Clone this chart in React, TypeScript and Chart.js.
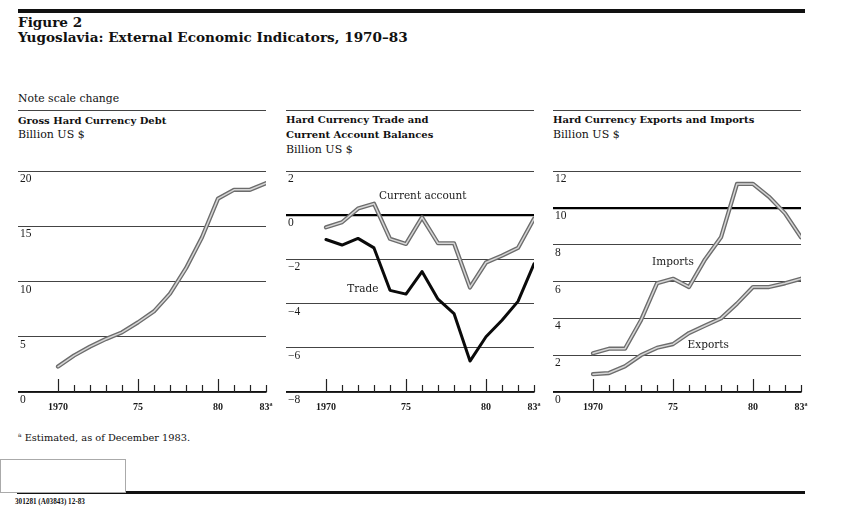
import React, { useEffect, useRef } from 'react';
import { Chart, registerables } from 'chart.js';

Chart.register(...registerables);

// ---- data ----
const years = [1970, 1971, 1972, 1973, 1974, 1975, 1976, 1977, 1978, 1979, 1980, 1981, 1982, 1983];
const grossDebt = [2.3, 3.3, 4.1, 4.8, 5.4, 6.3, 7.3, 8.9, 11.2, 14.0, 17.5, 18.3, 18.3, 18.9];
const currentAccount = [-0.55, -0.32, 0.3, 0.52, -1.07, -1.3, -0.1, -1.27, -1.27, -3.27, -2.14, -1.83, -1.48, -0.16];
const tradeBalance = [-1.1, -1.35, -1.05, -1.48, -3.4, -3.57, -2.55, -3.8, -4.45, -6.6, -5.5, -4.75, -3.9, -2.2];
const hardImports = [2.1, 2.35, 2.35, 3.9, 5.9, 6.15, 5.7, 7.2, 8.4, 11.3, 11.3, 10.6, 9.7, 8.4];
const hardExports = [0.97, 1.03, 1.4, 2.0, 2.4, 2.6, 3.2, 3.6, 4.0, 4.8, 5.7, 5.7, 5.9, 6.15];

const xTickYears = [1970, 1975, 1980, 1983];
const xTickLabels = ['1970', '75', '80', '83ª'];
const debtTicks = [0, 5, 10, 15, 20];
const balanceTicks = [-8, -6, -4, -2, 0, 2];
const tradeTicks = [0, 2, 4, 6, 8, 10, 12];

// ---- layout constants ----
const CHART_TOP = 160;
const TOP_PAD = 11;
const PLOT_H = 221;
const X_AXIS_H = 25;
const PLOT_W = 248;
const RIGHT_PAD = 20;

const SMALL = "'DejaVu Serif', serif";
const TIMES = "'Liberation Serif', serif";

const toPoints = (vals: number[]) => years.map((y, i) => ({ x: y, y: vals[i] }));

function doubleLine(vals: number[]) {
  return [
    { data: toPoints(vals), borderColor: '#d6d6d6', borderWidth: 1.5, order: 0 },
    { data: toPoints(vals), borderColor: '#6c6c6c', borderWidth: 4.2, order: 1 },
  ];
}

type SeriesLabel = { text: string; x: number; y: number };

type PanelProps = {
  left: number;
  yMin: number;
  yMax: number;
  yTicks: number[];
  datasets: any[];
  labels: SeriesLabel[];
  heavy?: number;
};

function fmt(v: number) {
  return v < 0 ? '\u2212' + Math.abs(v) : String(v);
}

function Panel({ left, yMin, yMax, yTicks, datasets, labels, heavy }: PanelProps) {
  const ref = useRef<HTMLCanvasElement | null>(null);
  useEffect(() => {
    if (!ref.current) return;
    const yearTicks = {
      id: 'yearTicks',
      afterDraw(chart: any) {
        const xs = chart.scales.x;
        const bottom = chart.chartArea.bottom;
        const ctx = chart.ctx;
        ctx.save();
        ctx.strokeStyle = '#222';
        ctx.lineWidth = 1.2;
        years.forEach((yr) => {
          const px = Math.round(xs.getPixelForValue(yr)) + 0.5;
          const h = yr % 5 === 0 ? 13 : 7;
          ctx.beginPath();
          ctx.moveTo(px, bottom);
          ctx.lineTo(px, bottom - h);
          ctx.stroke();
        });
        ctx.restore();
      },
    };
    const seriesLabels = {
      id: 'seriesLabels',
      afterDatasetsDraw(chart: any) {
        const xs = chart.scales.x;
        const ys = chart.scales.y;
        const ctx = chart.ctx;
        ctx.save();
        ctx.font = `10.5px ${SMALL}`;
        ctx.fillStyle = '#1a1a1a';
        ctx.textAlign = 'center';
        ctx.textBaseline = 'middle';
        labels.forEach((l) => {
          ctx.fillText(l.text, xs.getPixelForValue(l.x), ys.getPixelForValue(l.y));
        });
        ctx.restore();
      },
    };
    const chart = new Chart(ref.current, {
      type: 'line',
      data: { datasets },
      options: {
        animation: false,
        responsive: false,
        layout: { padding: { top: TOP_PAD, right: RIGHT_PAD, left: 0, bottom: 0 } },
        plugins: { legend: { display: false }, tooltip: { enabled: false } },
        elements: { point: { radius: 0 }, line: { tension: 0, borderJoinStyle: 'round', borderCapStyle: 'round' } },
        scales: {
          x: {
            type: 'linear',
            min: 1967.5,
            max: 1983,
            grid: { display: false, drawTicks: false },
            border: { display: true, color: '#111', width: 1.5 },
            afterBuildTicks: (s: any) => {
              s.ticks = xTickYears.map((v) => ({ value: v }));
            },
            afterFit: (s: any) => {
              s.height = X_AXIS_H;
            },
            ticks: {
              padding: 9,
              color: '#1a1a1a',
              maxRotation: 0,
              autoSkip: false,
              font: { family: TIMES, size: 10, weight: 'bold' },
              callback: (_v: any, i: number) => xTickLabels[i],
            },
          },
          y: {
            type: 'linear',
            min: yMin,
            max: yMax,
            afterBuildTicks: (s: any) => {
              s.ticks = yTicks.map((v) => ({ value: v }));
            },
            afterFit: (s: any) => {
              s.width = 0;
            },
            border: { display: false },
            grid: {
              drawTicks: false,
              color: (c: any) => (c.tick && c.tick.value === heavy ? '#000' : '#444'),
              lineWidth: (c: any) => (c.tick && c.tick.value === heavy ? 2.2 : 1),
            },
            ticks: {
              mirror: true,
              padding: 2,
              labelOffset: 8,
              color: '#1a1a1a',
              font: { family: TIMES, size: 11.5 },
              callback: (v: any) => fmt(Number(v)),
            },
          },
        },
      },
      plugins: [yearTicks, seriesLabels],
    } as any);
    return () => chart.destroy();
  }, []);
  return (
    <canvas
      ref={ref}
      width={PLOT_W + RIGHT_PAD}
      height={TOP_PAD + PLOT_H + X_AXIS_H}
      style={{ position: 'absolute', left, top: CHART_TOP, width: PLOT_W + RIGHT_PAD, height: TOP_PAD + PLOT_H + X_AXIS_H }}
    />
  );
}

function Txt({ x, y, size, bold, family, children }: any) {
  return (
    <div
      style={{
        position: 'absolute',
        left: x,
        top: y - size / 2,
        fontSize: size,
        lineHeight: size + 'px',
        fontWeight: bold ? 'bold' : 'normal',
        fontFamily: family || SMALL,
        whiteSpace: 'nowrap',
        color: '#111',
      }}
    >
      {children}
    </div>
  );
}

function Rule({ x, y, w, h, color }: any) {
  return <div style={{ position: 'absolute', left: x, top: y, width: w, height: h, background: color || '#444' }} />;
}

export default function App() {
  return (
    <div style={{ position: 'absolute', left: 0, top: 0, width: 842, height: 507, background: '#fff', overflow: 'hidden' }}>
      <Rule x={18} y={9} w={787} h={4} color="#111" />
      <Txt x={18} y={23} size={13.6} bold>Figure 2</Txt>
      <Txt x={18} y={38} size={13.6} bold>Yugoslavia: External Economic Indicators, 1970–83</Txt>

      <Txt x={18} y={99.5} size={10.8}>Note scale change</Txt>
      <Rule x={18} y={110} w={248} h={1} />
      <Rule x={286} y={110} w={248} h={1} />
      <Rule x={553} y={110} w={248} h={1} />

      <Txt x={18} y={120.5} size={10} bold>Gross Hard Currency Debt</Txt>
      <Txt x={18} y={134.5} size={11}>Billion US $</Txt>

      <Txt x={286} y={119.5} size={10} bold>Hard Currency Trade and</Txt>
      <Txt x={286} y={134.5} size={10} bold>Current Account Balances</Txt>
      <Txt x={286} y={149.5} size={11}>Billion US $</Txt>

      <Txt x={553} y={119.5} size={10} bold>Hard Currency Exports and Imports</Txt>
      <Txt x={553} y={134.5} size={11}>Billion US $</Txt>

      <Panel left={18} yMin={0} yMax={20} yTicks={debtTicks} datasets={doubleLine(grossDebt)} labels={[]} />
      <Panel
        left={286}
        yMin={-8}
        yMax={2}
        yTicks={balanceTicks}
        heavy={0}
        datasets={[
          { data: toPoints(tradeBalance), borderColor: '#0a0a0a', borderWidth: 3, order: -1 },
          ...doubleLine(currentAccount),
        ]}
        labels={[
          { text: 'Current account', x: 1976.05, y: 0.85 },
          { text: 'Trade', x: 1972.3, y: -3.33 },
        ]}
      />
      <Panel
        left={553}
        yMin={0}
        yMax={12}
        yTicks={tradeTicks}
        heavy={10}
        datasets={[...doubleLine(hardImports), ...doubleLine(hardExports)]}
        labels={[
          { text: 'Imports', x: 1975.0, y: 7.02 },
          { text: 'Exports', x: 1977.2, y: 2.55 },
        ]}
      />

      <div style={{ position: 'absolute', left: 18, top: 432, fontSize: 9.8, lineHeight: '11px', fontFamily: SMALL, color: '#111', whiteSpace: 'nowrap' }}>
        <sup style={{ fontSize: 6, verticalAlign: 'top', lineHeight: '6px' }}>a</sup> Estimated, as of December 1983.
      </div>

      <Rule x={17} y={491} w={788} h={3} color="#111" />
      <div style={{ position: 'absolute', left: 0, top: 459, width: 124, height: 32, border: '1px solid #aaa', background: '#fff' }} />
      <Txt x={15} y={503} size={7.2} bold family={TIMES}>301281 (A03843) 12-83</Txt>
    </div>
  );
}
